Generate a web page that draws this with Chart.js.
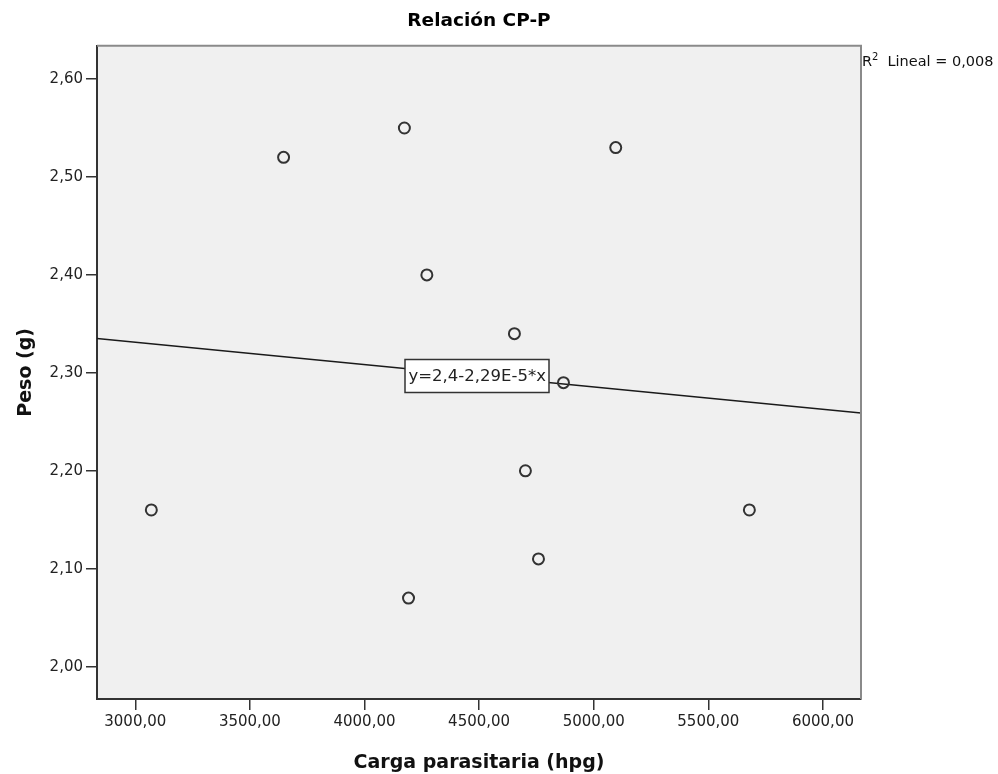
<!DOCTYPE html>
<html>
<head>
<meta charset="utf-8">
<title>Relación CP-P</title>
<script src="https://cdn.jsdelivr.net/npm/chart.js@4.4.1/dist/chart.umd.min.js"></script>
<style>
  html, body { margin: 0; padding: 0; background: #fff; }
  #wrap { width: 998px; height: 774px; }
</style>
</head>
<body>
<div id="wrap"><canvas id="scatterChart" width="998" height="774"></canvas></div>
<script>
// Carga parasitaria (hpg) vs Peso (g), one entry per animal
const cargaHpg = [3070, 3647, 4174, 4192, 4272, 4654, 4702, 4759, 4868, 5096, 5679];
const pesoG    = [2.16, 2.52, 2.55, 2.07, 2.40, 2.34, 2.20, 2.11, 2.29, 2.53, 2.16];

// linear fit, ends read at the plot edges
const fitX = [2833, 6166];
const fitY = [2.335, 2.259];

const xTicks = [3000, 3500, 4000, 4500, 5000, 5500, 6000];
const yTicks = [2.0, 2.1, 2.2, 2.3, 2.4, 2.5, 2.6];

const xRange = [2833, 6166];
const yRange = [1.967, 2.634];

const fitLabel = 'y=2,4-2,29E-5*x';
const r2Value = '0,008';

const FONT = '"DejaVu Sans", "Liberation Sans", sans-serif';

function commaFixed(v, digits) {
  return Number(v).toFixed(digits).replace('.', ',');
}

// grey plot background + the lighter top/right frame edges
const plotFrame = {
  id: 'plotFrame',
  beforeDraw(chart) {
    const { ctx, chartArea: a } = chart;
    ctx.save();
    ctx.fillStyle = '#fff';
    ctx.fillRect(0, 0, chart.width, chart.height);
    ctx.fillStyle = '#f0f0f0';
    ctx.fillRect(a.left, a.top, a.right - a.left, a.bottom - a.top);
    ctx.restore();
  },
  afterDraw(chart) {
    const { ctx, chartArea: a } = chart;
    ctx.save();
    ctx.strokeStyle = '#8a8a8a';
    ctx.lineWidth = 2;
    ctx.beginPath();
    ctx.moveTo(a.left, a.top);
    ctx.lineTo(a.right, a.top);
    ctx.lineTo(a.right, a.bottom);
    ctx.stroke();

    // R² note, right of the frame
    ctx.fillStyle = '#111';
    ctx.textBaseline = 'middle';
    ctx.textAlign = 'left';
    let x = a.right + 1;
    const y = a.top + 17;
    ctx.font = '14.5px ' + FONT;
    ctx.fillText('R', x, y);
    x += ctx.measureText('R').width;
    ctx.font = '10px ' + FONT;
    ctx.fillText('2', x, y - 5);
    x += ctx.measureText('2').width + 9;
    ctx.font = '14.5px ' + FONT;
    ctx.fillText('Lineal = ' + r2Value, x, y);
    ctx.restore();
  }
};

// boxed equation of the fit line
const fitLabelBox = {
  id: 'fitLabelBox',
  afterDatasetsDraw(chart) {
    const { ctx, scales } = chart;
    const left = Math.round(scales.x.getPixelForValue(4177));
    const midY = Math.round(scales.y.getPixelForValue(2.297));
    ctx.save();
    ctx.font = '16.5px ' + FONT;
    const w = Math.round(ctx.measureText(fitLabel).width + 7);
    const h = 33;
    ctx.fillStyle = '#fff';
    ctx.fillRect(left, midY - h / 2, w, h);
    ctx.strokeStyle = '#333';
    ctx.lineWidth = 1.5;
    ctx.strokeRect(left, midY - h / 2, w, h);
    ctx.fillStyle = '#222';
    ctx.textBaseline = 'middle';
    ctx.textAlign = 'left';
    ctx.fillText(fitLabel, left + 3.5, midY + 1);
    ctx.restore();
  }
};

const points = cargaHpg.map((c, i) => ({ x: c, y: pesoG[i] }));
const fitLine = fitX.map((c, i) => ({ x: c, y: fitY[i] }));

const ctx = document.getElementById('scatterChart').getContext('2d');
new Chart(ctx, {
  type: 'scatter',
  data: {
    datasets: [
      {
        label: 'Peso',
        data: points,
        pointRadius: 5.5,
        pointHoverRadius: 5.5,
        pointBorderWidth: 2,
        borderColor: '#333',
        backgroundColor: 'rgba(0,0,0,0)'
      },
      {
        label: 'Lineal',
        data: fitLine,
        showLine: true,
        borderColor: '#1a1a1a',
        borderWidth: 1.5,
        pointRadius: 0
      }
    ]
  },
  options: {
    responsive: false,
    animation: false,
    events: [],
    layout: { padding: { left: 0, right: 137, top: 0, bottom: 0 } },
    plugins: {
      legend: { display: false },
      tooltip: { enabled: false },
      title: {
        display: true,
        fullSize: false,
        text: 'Relación CP-P',
        color: '#000',
        font: { family: FONT, size: 18.5, weight: 'bold' },
        padding: { top: 10, bottom: 13.5 }
      }
    },
    scales: {
      x: {
        type: 'linear',
        min: xRange[0],
        max: xRange[1],
        afterBuildTicks: s => { s.ticks = xTicks.map(v => ({ value: v })); },
        afterFit: s => { s.height = 75; },
        grid: { drawOnChartArea: false, tickLength: 11, color: '#333', lineWidth: 1.5 },
        border: { display: true, color: '#333', width: 2 },
        ticks: {
          padding: 3,
          color: '#222',
          maxRotation: 0,
          autoSkip: false,
          font: { family: FONT, size: 15 },
          callback: v => commaFixed(v, 2)
        },
        title: {
          display: true,
          text: 'Carga parasitaria (hpg)',
          color: '#111',
          font: { family: FONT, size: 19, weight: 'bold' },
          padding: { top: 0, bottom: 0 }
        }
      },
      y: {
        type: 'linear',
        min: yRange[0],
        max: yRange[1],
        afterBuildTicks: s => { s.ticks = yTicks.map(v => ({ value: v })); },
        afterFit: s => { s.width = 97; },
        grid: { drawOnChartArea: false, tickLength: 11, color: '#333', lineWidth: 1.5 },
        border: { display: true, color: '#333', width: 2 },
        ticks: {
          padding: 3,
          color: '#222',
          autoSkip: false,
          font: { family: FONT, size: 15 },
          callback: v => commaFixed(v, 2)
        },
        title: {
          display: true,
          text: 'Peso (g)',
          color: '#111',
          font: { family: FONT, size: 19, weight: 'bold' },
          padding: { top: 15, bottom: 0 }
        }
      }
    }
  },
  plugins: [plotFrame, fitLabelBox]
});
</script>
</body>
</html>
